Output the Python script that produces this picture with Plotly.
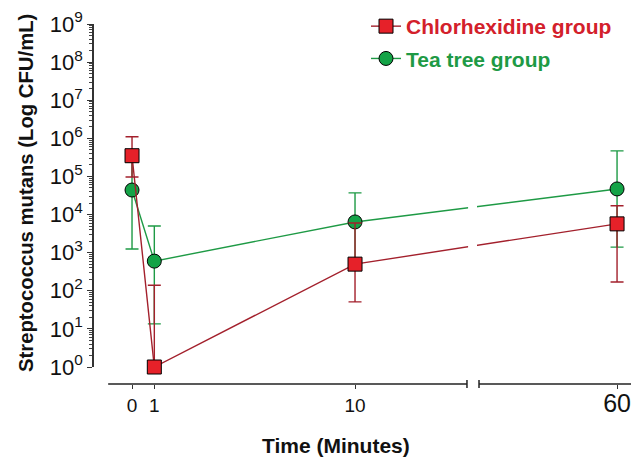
import plotly.graph_objects as go

# ---------------- data ----------------
times = [0, 1, 10, 60]
tick_labels = ["0", "1", "10", "60"]

chx_mean = [3.5e5, 1.0, 5.0e2, 5.7e3]
chx_upper = [1.1e6, 1.4e2, 6.0e3, 1.7e4]
chx_lower = [9.7e4, 1.0, 51, 1.7e2]

tt_mean = [4.4e4, 6.0e2, 6.4e3, 4.7e4]
tt_upper = [2.4e5, 5.0e3, 3.7e4, 4.7e5]
tt_lower = [1.25e3, 13.5, 5.0e2, 1.4e3]

y_exponents = list(range(0, 10))

# ---------------- broken x axis scale ----------------
SEG1_MIN, SEG1_MAX = -1.07, 15.02
SEG2_START_POS, SEG2_END_POS = 15.56, 22.42
SEG2_T0, SEG2_K = 50.0, 0.619


def axis_pos(t):
    if t <= 15:
        return t
    return SEG2_START_POS + (t - SEG2_T0) * SEG2_K


xs = [axis_pos(t) for t in times]

RED_FILL = "#e62129"
RED_LINE = "#a3202c"
GREEN_FILL = "#14a347"
GREEN_LINE = "#1e9a45"
FONT = "Liberation Sans, Arial, sans-serif"

# the page body has an 8px margin: the figure is drawn 8px right and down
OFF = 8
FIG_W, FIG_H = 639 - OFF, 457 - OFF
PLOT_H = 384.0 - OFF  # paper height (top margin 0), x axis at page y=384
PLOT_W = 543.0


def py(page_y):
    """page pixel y -> paper fraction"""
    return (384.0 - page_y) / PLOT_H


def px(page_x):
    """page pixel x -> paper fraction"""
    return (page_x - 93.0) / PLOT_W


def err(mean, up, lo):
    return [u - m for u, m in zip(up, mean)], [m - l for m, l in zip(mean, lo)]


tt_p, tt_m = err(tt_mean, tt_upper, tt_lower)
chx_p, chx_m = err(chx_mean, chx_upper, chx_lower)

fig = go.Figure()
fig.add_trace(go.Scatter(
    x=xs, y=tt_mean, mode="lines+markers",
    name=f"<span style='color:{GREEN_LINE}'><b>Tea tree group</b></span>",
    legendrank=2, legendgroup="tt",
    line=dict(color=GREEN_LINE, width=1.4),
    marker=dict(symbol="circle", size=14, color=GREEN_FILL, line=dict(color="black", width=1)),
    error_y=dict(type="data", symmetric=False, array=tt_p, arrayminus=tt_m,
                 color=GREEN_LINE, thickness=1.4, width=6.5),
    cliponaxis=False,
))
fig.add_trace(go.Scatter(
    x=xs, y=chx_mean, mode="lines+markers",
    name=f"<span style='color:#d3202b'><b>Chlorhexidine group</b></span>",
    legendrank=1, legendgroup="chx",
    line=dict(color=RED_LINE, width=1.4),
    marker=dict(symbol="square", size=14, color=RED_FILL, line=dict(color="black", width=1)),
    error_y=dict(type="data", symmetric=False, array=chx_p, arrayminus=chx_m,
                 color=RED_LINE, thickness=1.4, width=6.5),
    cliponaxis=False,
))

ticktext = [t if t != "60" else "<span style='font-size:25px'>60</span>" for t in tick_labels]

minor_vals = [m * 10 ** k for k in y_exponents[:-1] for m in range(2, 10)]

fig.update_layout(
    width=FIG_W, height=FIG_H,
    margin=dict(l=93 - OFF, r=3, t=0, b=FIG_H - PLOT_H, autoexpand=False),
    paper_bgcolor="white", plot_bgcolor="white",
    font=dict(family=FONT, color="#111111"),
    showlegend=True,
    legend=dict(x=px(366), y=py(6), xanchor="left", yanchor="top",
                font=dict(size=21, family=FONT), tracegroupgap=2,
                bgcolor="rgba(0,0,0,0)"),
    xaxis=dict(
        range=[-1.75, 22.6], domain=[0, 1], anchor="free", position=0,
        automargin=False,
        showline=False, showgrid=False, zeroline=False,
        tickmode="array", tickvals=xs, ticktext=ticktext,
        ticks="outside", ticklen=4, tickwidth=1, tickcolor="#333",
        tickfont=dict(size=19, family=FONT, color="#111"),
    ),
    yaxis=dict(
        type="log", range=[0, 9], domain=[py(367), py(24)], anchor="free", position=0,
        automargin=False,
        showline=True, linecolor="#333", linewidth=1.5,
        showgrid=False, zeroline=False,
        tickmode="array", tickvals=[10 ** k for k in y_exponents],
        ticktext=[f"10<sup>{k}</sup>" for k in y_exponents],
        ticks="outside", ticklen=5, tickwidth=1.2, tickcolor="#333",
        tickfont=dict(size=22, family=FONT, color="#111"),
        minor=dict(tickmode="array", tickvals=minor_vals, ticks="outside",
                   ticklen=3, tickwidth=1, tickcolor="#444", showgrid=False),
    ),
)

# axis line with break
for a, b in [(SEG1_MIN, SEG1_MAX), (SEG2_START_POS, SEG2_END_POS)]:
    fig.add_shape(type="line", xref="x", yref="paper", x0=a, x1=b, y0=0, y1=0,
                  line=dict(color="#222", width=1.5))
for xb in [SEG1_MAX, SEG2_START_POS]:
    fig.add_shape(type="line", xref="x", yref="paper", x0=xb, x1=xb,
                  y0=py(388), y1=py(380), line=dict(color="#222", width=1.5))
# gap in the data lines at the break
fig.add_shape(type="rect", xref="x", yref="paper", x0=15.07, x1=15.47,
              y0=py(362), y1=py(24),
              fillcolor="white", line=dict(width=0), layer="above")

fig.add_annotation(text="<b>Time (Minutes)</b>", xref="paper", yref="paper",
                   x=px(336), y=py(446), xanchor="center", yanchor="middle",
                   showarrow=False, font=dict(size=21, family=FONT, color="#111"))
fig.add_annotation(text="<b>Streptococcus mutans (Log CFU/mL)</b>", xref="paper", yref="paper",
                   x=px(26), y=py(193), xanchor="center", yanchor="middle", textangle=-90,
                   showarrow=False, font=dict(size=20.3, family=FONT, color="#111"))

fig.write_html("out.html")
